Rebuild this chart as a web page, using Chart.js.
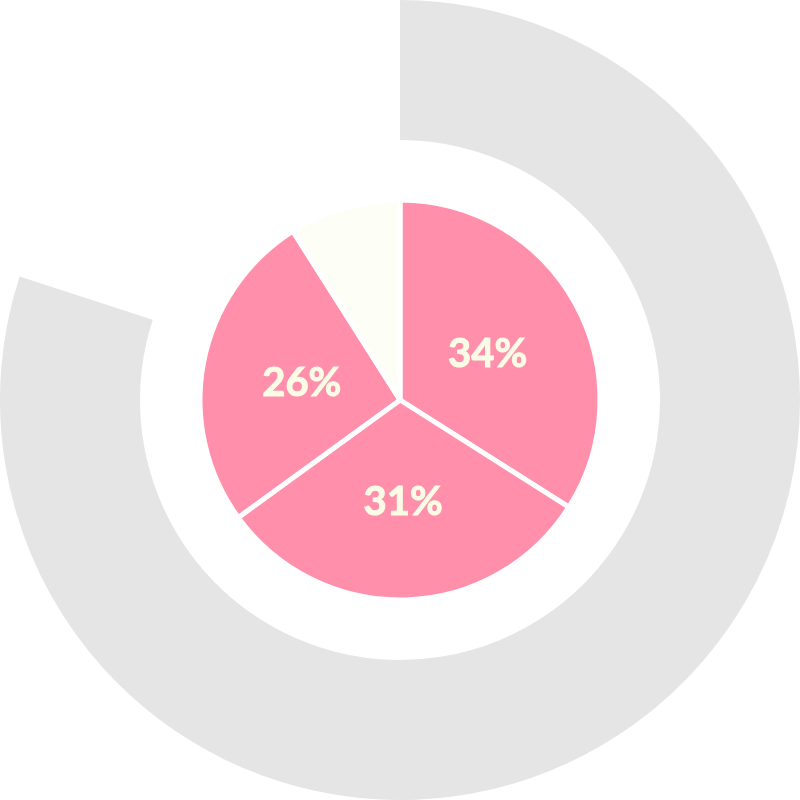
<!DOCTYPE html>
<html>
<head>
<meta charset="utf-8">
<script src="https://cdn.jsdelivr.net/npm/chart.js@4"></script>
<style>
html,body{margin:0;padding:0;background:#fff;}
#wrap{width:800px;height:800px;}
</style>
</head>
<body>
<div id="wrap"><canvas id="c" width="800" height="800"></canvas></div>
<script>
const ringValues = [80, 20];
const pieLabels = ['A', 'B', 'C', 'D'];
const pieValues = [34, 31, 26, 9];
const labelTexts = ['34%', '31%', '26%', ''];

const labelPlugin = {
  id: 'sliceLabels',
  afterDatasetsDraw(chart) {
    const ctx = chart.ctx;
    const meta = chart.getDatasetMeta(2);
    ctx.save();
    ctx.font = 'bold 40px Lato';
    ctx.fillStyle = '#fafce6';
    ctx.strokeStyle = '#fafce6';
    ctx.lineWidth = 1;
    ctx.textAlign = 'center';
    ctx.textBaseline = 'middle';
    meta.data.forEach((arc, i) => {
      const t = labelTexts[i];
      if (!t) return;
      const p = arc.tooltipPosition();
      ctx.fillText(t, p.x, p.y + 2);
      ctx.strokeText(t, p.x, p.y + 2);
    });
    ctx.restore();
  }
};

new Chart(document.getElementById('c'), {
  type: 'doughnut',
  data: {
    labels: pieLabels,
    datasets: [
      { data: ringValues, backgroundColor: ['#e5e5e5', 'rgba(0,0,0,0)'], borderWidth: 0, weight: 140 },
      { data: [100], backgroundColor: ['rgba(0,0,0,0)'], borderWidth: 0, weight: 60 },
      { data: pieValues, backgroundColor: ['#ff8fab', '#ff8fab', '#ff8fab', '#fdfff6'], borderColor: '#ffffff', borderWidth: 5, weight: 200 }
    ]
  },
  options: {
    responsive: false,
    animation: false,
    cutout: 0,
    layout: { padding: 0 },
    plugins: { legend: { display: false }, tooltip: { enabled: false } }
  },
  plugins: [labelPlugin]
});
</script>
</body>
</html>
